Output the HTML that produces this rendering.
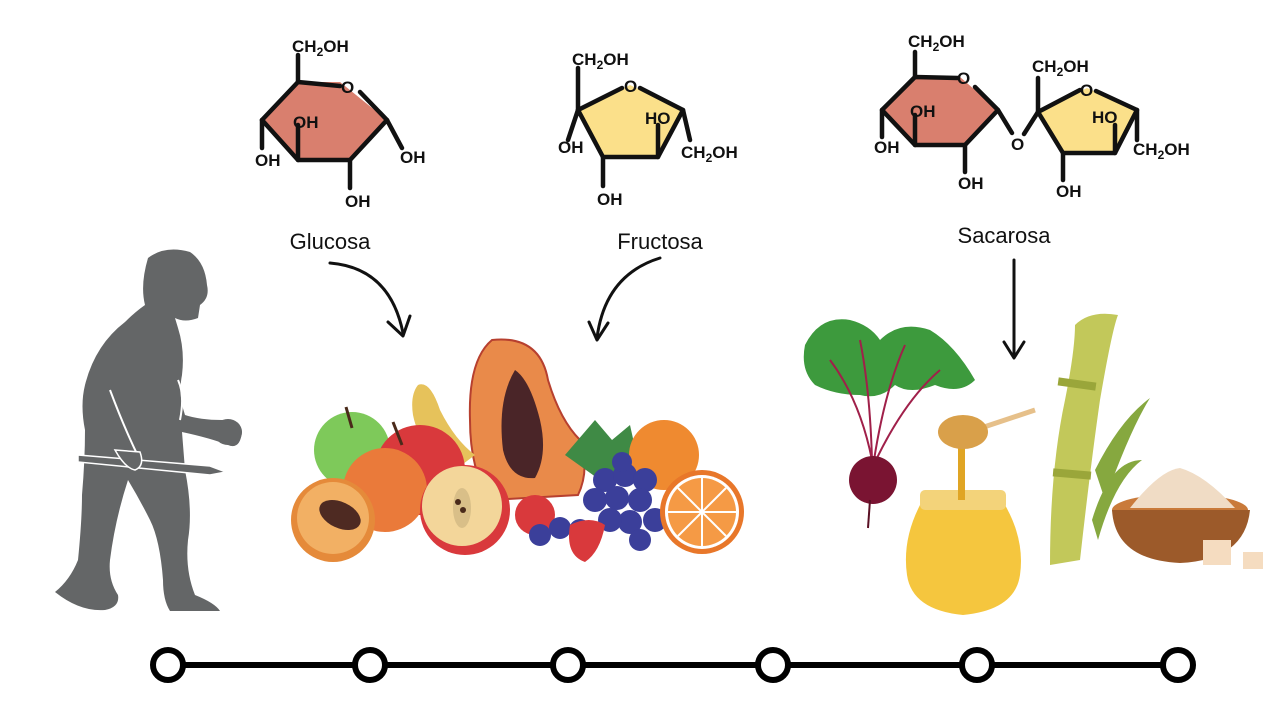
<!DOCTYPE html>
<html><head><meta charset="utf-8"><style>
html,body{margin:0;padding:0;background:#fff;}
svg{display:block;}
text{font-family:"Liberation Sans",Arial,sans-serif;font-weight:bold;fill:#111;}
.lbl{font-weight:normal;font-size:22px;}
.ch{font-size:17px;}
</style></head><body>
<svg width="1280" height="720" viewBox="0 0 1280 720" xmlns="http://www.w3.org/2000/svg">
<rect width="1280" height="720" fill="#fff"/>

<!-- Glucose -->
<g stroke="#111" stroke-width="4.5" stroke-linejoin="round" stroke-linecap="round" fill="none">
<polygon points="298,82 340,82 387,120 350,160 298,160 262,120" fill="#d97f6e" stroke="none"/>
<polyline points="340,86 298,82 262,120 298,160 350,160 387,120 360,92"/>
<line x1="298" y1="82" x2="298" y2="55"/>
<line x1="262" y1="120" x2="262" y2="148"/>
<line x1="298" y1="160" x2="298" y2="125"/>
<line x1="350" y1="160" x2="350" y2="188"/>
<line x1="387" y1="120" x2="402" y2="148"/>
</g>
<text x="292" y="52" class="ch">CH<tspan font-size="12" dy="4">2</tspan><tspan dy="-4">OH</tspan></text>
<text x="341" y="93" class="ch">O</text>
<text x="293" y="128" class="ch">OH</text>
<text x="255" y="166" class="ch">OH</text>
<text x="400" y="163" class="ch">OH</text>
<text x="345" y="207" class="ch">OH</text>

<!-- Fructose -->
<g stroke="#111" stroke-width="4.5" stroke-linejoin="round" stroke-linecap="round" fill="none">
<polygon points="578,110 630,85 683,110 658,157 603,157" fill="#fbe08a" stroke="none"/>
<polyline points="622,88 578,110 603,157 658,157 683,110 640,88"/>
<line x1="578" y1="110" x2="578" y2="68"/>
<line x1="578" y1="110" x2="568" y2="140"/>
<line x1="603" y1="157" x2="603" y2="186"/>
<line x1="658" y1="157" x2="658" y2="125"/>
<line x1="683" y1="110" x2="690" y2="140"/>
</g>
<text x="572" y="65" class="ch">CH<tspan font-size="12" dy="4">2</tspan><tspan dy="-4">OH</tspan></text>
<text x="624" y="92" class="ch">O</text>
<text x="645" y="124" class="ch">HO</text>
<text x="558" y="153" class="ch">OH</text>
<text x="681" y="158" class="ch">CH<tspan font-size="12" dy="4">2</tspan><tspan dy="-4">OH</tspan></text>
<text x="597" y="205" class="ch">OH</text>

<!-- Sucrose -->
<g stroke="#111" stroke-width="4.5" stroke-linejoin="round" stroke-linecap="round" fill="none">
<polygon points="915,77 960,77 998,110 965,145 915,145 882,110" fill="#d97f6e" stroke="none"/>
<polyline points="958,78 915,77 882,110 915,145 965,145 998,110 975,87"/>
<line x1="915" y1="77" x2="915" y2="52"/>
<line x1="882" y1="110" x2="882" y2="137"/>
<line x1="915" y1="145" x2="915" y2="115"/>
<line x1="965" y1="145" x2="965" y2="172"/>
<line x1="998" y1="110" x2="1012" y2="133"/>
<line x1="1024" y1="134" x2="1038" y2="112"/>
<polygon points="1038,112 1087,88 1137,110 1115,153 1063,153" fill="#fbe08a" stroke="none"/>
<polyline points="1080,90 1038,112 1063,153 1115,153 1137,110 1096,91"/>
<line x1="1038" y1="112" x2="1038" y2="78"/>
<line x1="1063" y1="153" x2="1063" y2="180"/>
<line x1="1115" y1="153" x2="1115" y2="125"/>
<line x1="1137" y1="110" x2="1137" y2="140"/>
</g>
<text x="908" y="47" class="ch">CH<tspan font-size="12" dy="4">2</tspan><tspan dy="-4">OH</tspan></text>
<text x="957" y="84" class="ch">O</text>
<text x="910" y="117" class="ch">OH</text>
<text x="874" y="153" class="ch">OH</text>
<text x="958" y="189" class="ch">OH</text>
<text x="1011" y="150" class="ch">O</text>
<text x="1032" y="72" class="ch">CH<tspan font-size="12" dy="4">2</tspan><tspan dy="-4">OH</tspan></text>
<text x="1080" y="96" class="ch">O</text>
<text x="1092" y="123" class="ch">HO</text>
<text x="1133" y="155" class="ch">CH<tspan font-size="12" dy="4">2</tspan><tspan dy="-4">OH</tspan></text>
<text x="1056" y="197" class="ch">OH</text>

<!-- labels -->
<text x="330" y="249" class="lbl" text-anchor="middle">Glucosa</text>
<text x="660" y="249" class="lbl" text-anchor="middle">Fructosa</text>
<text x="1004" y="243" class="lbl" text-anchor="middle">Sacarosa</text>

<!-- arrows -->
<g stroke="#111" stroke-width="3" fill="none" stroke-linecap="round" stroke-linejoin="round">
<path d="M330,263 Q390,268 403,333"/>
<polyline points="388,322 403,336 410,316"/>
<path d="M660,258 Q605,275 597,338"/>
<polyline points="589,322 597,340 608,323"/>
<line x1="1014" y1="260" x2="1014" y2="357"/>
<polyline points="1004,342 1014,358 1024,342"/>
</g>

<!-- human silhouette -->
<g fill="#646667">
<path d="M148,258 Q165,245 190,252 Q205,262 207,285 Q210,298 200,305 L198,318 Q185,323 175,318 L178,328 Q185,350 182,375 Q178,395 185,415 Q200,420 222,420 Q240,418 242,432 Q240,450 228,445 Q210,438 182,432 L185,470 Q193,510 188,540 Q185,570 195,595 Q215,603 220,611 L170,611 Q163,600 163,580 Q160,540 150,520 Q140,500 128,480 Q115,520 110,560 Q108,580 118,595 Q120,607 105,610 Q80,612 55,592 Q70,580 78,560 Q82,520 82,495 Q85,460 85,430 Q80,405 85,385 Q95,345 125,322 Q135,312 145,305 Q140,285 148,258Z"/>
<ellipse cx="228" cy="432" rx="14" ry="13"/>
</g>
<g stroke="#fff" stroke-width="2" fill="none">
<path d="M110,390 Q125,430 140,460"/>
<path d="M180,420 Q185,395 178,380"/>
</g>
<polygon points="78,455 210,466 226,472 210,475 78,462" fill="#646667" stroke="#fff" stroke-width="1.5"/>
<path d="M115,450 Q125,468 135,470 Q145,466 140,452Z" fill="#646667" stroke="#fff" stroke-width="1.5"/>

<!-- fruits -->
<path d="M492,340 Q540,335 548,380 Q560,420 580,440 Q590,470 578,495 L490,500 Q470,470 470,420 Q468,360 492,340Z" fill="#e98a4a" stroke="#b7402f" stroke-width="2"/>
<path d="M515,370 Q530,380 540,420 Q548,455 535,478 Q510,480 503,450 Q497,400 515,370Z" fill="#4a2528"/>
<path d="M418,385 Q430,380 440,410 Q455,440 475,455 L455,470 Q420,450 413,415 Q410,395 418,385Z" fill="#e6c25b"/>
<circle cx="352" cy="450" r="38" fill="#7ec95a"/>
<line x1="346" y1="407" x2="352" y2="428" stroke="#4a2a1a" stroke-width="3"/>
<circle cx="420" cy="470" r="45" fill="#d9393c"/>
<line x1="393" y1="422" x2="402" y2="445" stroke="#4a2a1a" stroke-width="3"/>
<circle cx="385" cy="490" r="42" fill="#ea7a3a"/>
<circle cx="333" cy="520" r="42" fill="#e58a3a"/>
<circle cx="333" cy="518" r="36" fill="#f2b064"/>
<ellipse cx="340" cy="515" rx="22" ry="13" transform="rotate(25 340 515)" fill="#4e2a22"/>
<circle cx="465" cy="510" r="45" fill="#d9393c"/>
<circle cx="462" cy="506" r="40" fill="#f3d69a"/>
<ellipse cx="462" cy="508" rx="9" ry="20" fill="#d9bf88"/>
<circle cx="458" cy="502" r="3" fill="#4a2a1a"/><circle cx="463" cy="510" r="3" fill="#4a2a1a"/>
<path d="M565,455 L595,420 L612,440 L630,425 L640,470 L600,480Z" fill="#3f8a45"/>
<circle cx="664" cy="455" r="35" fill="#ef8a30"/>
<circle cx="535" cy="515" r="20" fill="#d9393c"/>
<g fill="#3b3f9a">
<circle cx="605" cy="480" r="12"/><circle cx="625" cy="475" r="12"/><circle cx="645" cy="480" r="12"/><circle cx="595" cy="500" r="12"/><circle cx="617" cy="498" r="12"/><circle cx="640" cy="500" r="12"/><circle cx="655" cy="520" r="12"/><circle cx="630" cy="522" r="12"/><circle cx="610" cy="520" r="12"/><circle cx="560" cy="528" r="11"/><circle cx="540" cy="535" r="11"/><circle cx="580" cy="530" r="11"/><circle cx="640" cy="540" r="11"/><circle cx="622" cy="462" r="10"/>
</g>
<path d="M570,525 Q590,515 605,525 Q600,552 585,562 Q565,555 570,525Z" fill="#d9393c"/>
<circle cx="702" cy="512" r="42" fill="#e8772a"/>
<circle cx="702" cy="512" r="37" fill="#fff"/>
<circle cx="702" cy="512" r="34" fill="#f59a45"/>
<g stroke="#fff" stroke-width="2"><line x1="668" y1="512" x2="736" y2="512"/><line x1="702" y1="478" x2="702" y2="546"/><line x1="678" y1="488" x2="726" y2="536"/><line x1="726" y1="488" x2="678" y2="536"/></g>

<!-- beet -->
<path d="M805,345 Q820,315 850,320 Q870,325 880,340 Q900,320 930,330 Q955,345 975,380 Q960,395 935,385 Q910,395 895,385 Q880,400 860,395 Q835,395 815,385 Q800,370 805,345Z" fill="#3d9a3d"/>
<g stroke="#a0204a" stroke-width="2" fill="none"><path d="M872,460 Q860,400 830,360"/><path d="M872,460 Q870,390 860,340"/><path d="M874,460 Q885,390 905,345"/><path d="M876,460 Q905,400 940,370"/></g>
<circle cx="873" cy="480" r="24" fill="#7a1432"/>
<line x1="870" y1="500" x2="868" y2="528" stroke="#5a1024" stroke-width="2"/>

<!-- honey -->
<path d="M920,505 L1005,505 Q1025,540 1020,575 Q1015,610 963,615 Q912,610 907,575 Q902,540 920,505Z" fill="#f5c63e"/>
<rect x="920" y="490" width="86" height="20" rx="5" fill="#f3d37a"/>
<rect x="958" y="440" width="7" height="60" fill="#e0a524"/>
<line x1="975" y1="430" x2="1035" y2="410" stroke="#e6c08a" stroke-width="5"/>
<ellipse cx="963" cy="432" rx="25" ry="17" fill="#d9a04a"/>

<!-- sugar cane -->
<path d="M1075,325 Q1090,310 1118,315 Q1112,330 1100,400 Q1090,470 1080,560 L1050,565 Q1050,470 1065,400 Q1075,350 1075,325Z" fill="#c2c85a"/>
<rect x="1058" y="380" width="38" height="8" fill="#9aa63a" transform="rotate(8 1077 384)"/>
<rect x="1053" y="470" width="38" height="8" fill="#9aa63a" transform="rotate(5 1072 474)"/>
<path d="M1095,470 Q1120,420 1150,398 Q1130,430 1105,500Z" fill="#86a83f"/>
<path d="M1092,520 Q1110,460 1142,460 Q1115,480 1098,540Z" fill="#86a83f"/>

<!-- bowl -->
<ellipse cx="1180" cy="510" rx="68" ry="16" fill="#c97a3a"/>
<path d="M1112,510 Q1115,560 1180,563 Q1245,560 1250,510Z" fill="#9c5a2a"/>
<path d="M1130,508 Q1160,470 1180,468 Q1205,475 1235,508Z" fill="#f0dcc5"/>
<rect x="1203" y="540" width="28" height="25" fill="#f5dcc0"/>
<rect x="1243" y="552" width="20" height="17" fill="#f5dcc0"/>

<!-- timeline -->
<line x1="168" y1="665" x2="1178" y2="665" stroke="#000" stroke-width="6"/>
<g fill="#fff" stroke="#000" stroke-width="6">
<circle cx="168" cy="665" r="15"/><circle cx="370" cy="665" r="15"/><circle cx="568" cy="665" r="15"/><circle cx="773" cy="665" r="15"/><circle cx="977" cy="665" r="15"/><circle cx="1178" cy="665" r="15"/>
</g>
</svg>
</body></html>
